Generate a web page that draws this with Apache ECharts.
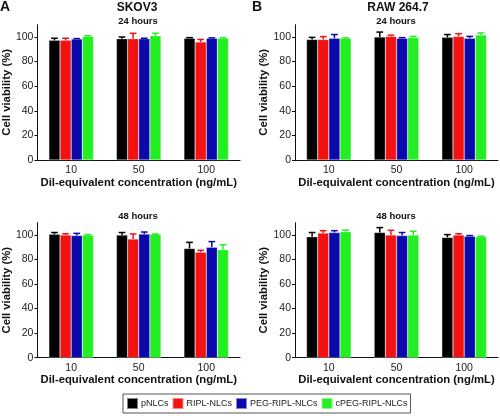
<!DOCTYPE html>
<html>
<head>
<meta charset="utf-8">
<script src="https://cdn.jsdelivr.net/npm/echarts@6/dist/echarts.min.js"></script>
<style>html,body{margin:0;padding:0;background:#fff;}#c{width:500px;height:416px;}</style>
</head>
<body>
<div id="c"></div>
<script>
const categories = ['10', '50', '100'];
const seriesNames = ['pNLCs', 'RIPL-NLCs', 'PEG-RIPL-NLCs', 'cPEG-RIPL-NLCs'];
const seriesColors = ['#000000', '#f21212', '#0a0aac', '#22ee22'];
const yTicks = [0, 20, 40, 60, 80, 100];

// rows = series (pNLCs, RIPL, PEG-RIPL, cPEG-RIPL), columns = categories
const skov3_24h_mean = [[97.3, 98.6, 99.0], [97.3, 98.6, 96.0], [98.4, 98.6, 99.0], [100.5, 101.0, 99.0]];
const skov3_24h_err  = [[1.7, 1.4, 0.5], [1.7, 4.4, 2.0], [0.3, 0.4, 0.3], [0.5, 2.0, 0.3]];
const raw_24h_mean   = [[98.0, 100.0, 99.7], [98.0, 100.5, 100.5], [99.0, 99.0, 99.0], [99.0, 99.5, 101.6]];
const raw_24h_err    = [[1.7, 4.0, 2.3], [2.3, 1.0, 2.2], [3.0, 0.5, 1.5], [0.3, 1.0, 1.7]];
const skov3_48h_mean = [[100.5, 100.0, 89.0], [100.0, 96.7, 86.0], [99.5, 100.8, 90.0], [100.0, 100.5, 88.0]];
const skov3_48h_err  = [[1.5, 2.0, 5.0], [1.0, 4.1, 1.5], [1.8, 1.6, 4.6], [0.3, 0.3, 4.0]];
const raw_48h_mean   = [[98.6, 102.0, 98.0], [101.6, 100.0, 100.0], [102.0, 99.5, 99.0], [102.7, 100.0, 98.7]];
const raw_48h_err    = [[3.4, 4.0, 2.3], [1.9, 3.8, 1.0], [1.5, 2.5, 0.5], [1.3, 3.0, 0.3]];

const panels = [
  {mean: skov3_24h_mean, err: skov3_24h_err},
  {mean: raw_24h_mean, err: raw_24h_err},
  {mean: skov3_48h_mean, err: skov3_48h_err},
  {mean: raw_48h_mean, err: raw_48h_err}
];

const FONT = 'Liberation Sans, Arial, sans-serif';
const CAT_GAP = 0.34;

const grids = [
  {left: 36, top: 24.7, width: 204, height: 135.3},
  {left: 295, top: 24.7, width: 203, height: 135.3},
  {left: 36, top: 222.7, width: 204, height: 135},
  {left: 295, top: 222.7, width: 203, height: 135}
];

const xAxes = grids.map((g, i) => ({
  type: 'category', gridIndex: i, data: categories,
  axisLine: {lineStyle: {color: '#111', width: 1}},
  axisTick: {alignWithLabel: true, length: 3, lineStyle: {color: '#111'}},
  axisLabel: {color: '#222', fontSize: 10.5, fontFamily: FONT, margin: 5},
  name: 'Dil-equivalent concentration (ng/mL)',
  nameLocation: 'middle', nameGap: 17,
  nameTextStyle: {fontWeight: 'bold', fontSize: 11.3, color: '#111', fontFamily: FONT}
}));

const yAxes = grids.map((g, i) => ({
  type: 'value', gridIndex: i, min: 0, max: 110,
  axisLine: {show: true, lineStyle: {color: '#111', width: 1}},
  axisTick: {show: true, length: 3, customValues: yTicks, lineStyle: {color: '#111'}},
  axisLabel: {color: '#222', fontSize: 10.5, fontFamily: FONT, margin: 4, customValues: yTicks},
  splitLine: {show: false},
  name: 'Cell viability (%)', nameLocation: 'middle', nameGap: 23,
  nameTextStyle: {fontWeight: 'bold', fontSize: 11.3, color: '#111', fontFamily: FONT}
}));

function errRender(si) {
  return function (params, api) {
    const cat = api.value(0), mean = api.value(1), err = api.value(2);
    const band = api.size([1, 0])[0];
    const group = band * (1 - CAT_GAP);
    const bw = group / 4;
    const base = api.coord([cat, mean]);
    const top = api.coord([cat, mean + err]);
    const x = base[0] - group / 2 + (si + 0.5) * bw;
    const half = bw * 0.3;
    const style = {stroke: seriesColors[si], lineWidth: 1.5};
    return {type: 'group', children: [
      {type: 'line', shape: {x1: x, y1: base[1], x2: x, y2: top[1]}, style: style},
      {type: 'line', shape: {x1: x - half, y1: top[1], x2: x + half, y2: top[1]}, style: style}
    ]};
  };
}

const series = [];
panels.forEach((p, pi) => {
  seriesNames.forEach((name, si) => {
    series.push({
      type: 'bar', name: name, xAxisIndex: pi, yAxisIndex: pi,
      data: p.mean[si], barGap: '0%', barCategoryGap: (CAT_GAP * 100) + '%',
      itemStyle: {color: seriesColors[si], borderColor: 'rgba(255,255,255,0.5)', borderWidth: 0.5},
      emphasis: {disabled: true}, animation: false
    });
  });
  seriesNames.forEach((name, si) => {
    series.push({
      type: 'custom', xAxisIndex: pi, yAxisIndex: pi,
      renderItem: errRender(si),
      data: categories.map((c, ci) => [ci, p.mean[si][ci], p.err[si][ci]]),
      z: 5, animation: false, silent: true
    });
  });
});

function txt(t, x, y, size) {
  return {type: 'text', x: x, y: y, style: {text: t, textAlign: 'center', textVerticalAlign: 'middle',
    font: 'bold ' + size + 'px ' + FONT, fill: '#111'}};
}

const chart = echarts.init(document.getElementById('c'), null, {renderer: 'canvas'});
chart.setOption({
  animation: false,
  backgroundColor: '#fff',
  grid: grids,
  xAxis: xAxes,
  yAxis: yAxes,
  series: series,
  legend: {
    data: seriesNames, left: 123, top: 394, icon: 'rect',
    itemWidth: 11, itemHeight: 11, itemGap: 3,
    borderColor: '#555', borderWidth: 1, padding: [3, 3],
    textStyle: {fontSize: 9, color: '#222', fontFamily: FONT, padding: [0, 0, 0, -2]},
    selectedMode: false
  },
  graphic: [
    txt('A', 5, 7, 14),
    txt('B', 257, 7, 14),
    txt('SKOV3', 137, 8, 12),
    txt('RAW 264.7', 398, 8, 12),
    txt('24 hours', 138, 21, 9.5),
    txt('24 hours', 396, 21, 9.5),
    txt('48 hours', 138, 216, 9.5),
    txt('48 hours', 396, 216, 9.5)
  ]
});
</script>
</body>
</html>
